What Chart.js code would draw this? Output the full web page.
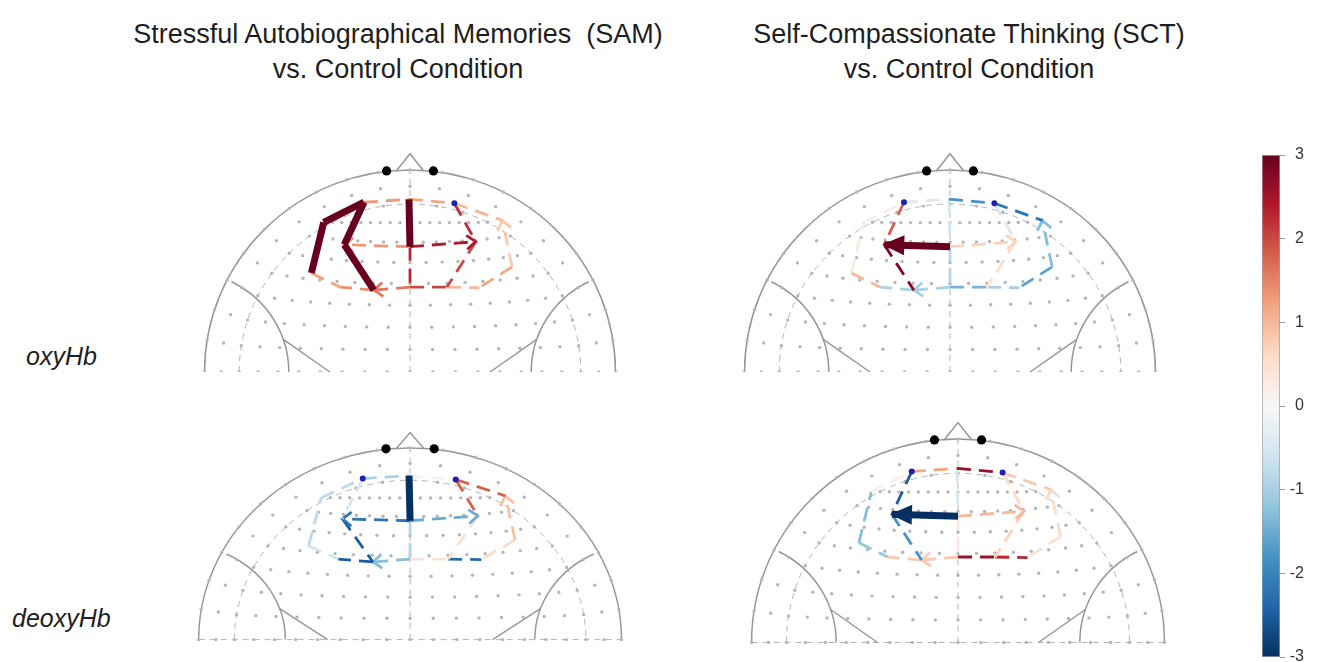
<!DOCTYPE html>
<html>
<head>
<meta charset="utf-8">
<title>Prefrontal channel contrasts</title>
<script src="https://cdn.jsdelivr.net/npm/chart.js@4.4.1/dist/chart.umd.min.js"></script>
<style>
  html, body { margin: 0; padding: 0; background: #fff; }
  body { width: 1321px; height: 662px; position: relative; overflow: hidden;
         font-family: "Liberation Sans", Arial, Helvetica, sans-serif; color: #1e1e1e; }
  .title { position: absolute; width: 640px; text-align: center; font-size: 27px;
           line-height: 35px; white-space: nowrap; }
  .rowlab { position: absolute; font-size: 25px; font-style: italic; line-height: 30px; white-space: nowrap; }
  canvas { position: absolute; display: block; }
</style>
</head>
<body>
<div class="title" style="left:78px;top:17px">Stressful Autobiographical Memories&nbsp; (SAM)<br>vs. Control Condition</div>
<div class="title" style="left:649px;top:17px">Self-Compassionate Thinking (SCT)<br>vs. Control Condition</div>
<div class="rowlab" style="left:26px;top:341px">oxyHb</div>
<div class="rowlab" style="left:12px;top:603px">deoxyHb</div>

<canvas id="cSamOxy"></canvas>
<canvas id="cSctOxy"></canvas>
<canvas id="cSamDeoxy"></canvas>
<canvas id="cSctDeoxy"></canvas>
<canvas id="cBar"></canvas>

<script>
// ---- Optode positions on the 2-D head map (x: left/right, y: toward the nose; head radius = 1)
const optodeX = [-0.224, -0.005, 0.216, -0.42, 0.45, -0.32, 0.0, 0.32, -0.48, 0.497, -0.34, -0.176, 0.0, 0.18, 0.337];
const optodeY = [ 0.84,   0.855, 0.835,  0.74, 0.75,  0.63, 0.62, 0.645, 0.49, 0.52,  0.42,  0.405, 0.42, 0.42, 0.417];

// ---- Channels: arrow from one optode to another
const chFrom = [0, 1, 2, 3, 8, 9, 0, 2, 1, 6, 6, 6, 5, 7, 8, 11, 12, 12, 13, 9];
const chTo   = [1, 2, 4, 0, 3, 4, 5, 7, 6, 5, 7, 12, 11, 13, 10, 10, 11, 13, 14, 14];
const headed = [5, 9, 10, 16];   // channels drawn with an arrowhead

// ---- t-values per channel, and which channels are significant
const samOxy      = [1.3, 1.2, 1.0, 3.0, 3.0, 0.8, 3.0, 2.2, 3.0, 1.3, 2.4, 2.3, 3.0, 2.0, 1.2, 1.4, 1.6, 2.0, 1.0, 1.2];
const samOxySig   = [0, 0, 0, 1, 1, 0, 1, 0, 1, 0, 0, 0, 1, 0, 0, 0, 0, 0, 0, 0];
const sctOxy      = [-0.4, -1.8, -2.2, 0.2, 0.3, -1.3, 1.8, -0.5, -0.6, 3.0, 0.7, -0.9, 2.8, 0.5, 1.0, -1.0, -1.0, -1.4, -1.0, -1.6];
const sctOxySig   = [0, 0, 0, 0, 0, 0, 0, 0, 0, 1, 0, 0, 0, 0, 0, 0, 0, 0, 0, 0];
const samDeoxy    = [-1.0, 0.1, 1.8, -0.8, -0.8, 0.9, -0.5, 1.8, -3.0, -2.2, -1.5, -0.9, -2.5, 0.5, -0.6, -2.5, -1.3, 0.4, -2.3, 0.6];
const samDeoxySig = [0, 0, 0, 0, 0, 0, 0, 0, 1, 0, 0, 0, 0, 0, 0, 0, 0, 0, 0, 0];
const sctDeoxy    = [1.2, 2.6, 0.8, 0.2, -1.3, 0.6, -2.5, 0.6, -0.5, -3.0, 1.0, 0.3, -1.8, 0.7, -1.2, 0.8, 0.8, 2.6, 2.3, 0.5];
const sctDeoxySig = [0, 0, 0, 0, 0, 0, 0, 0, 0, 1, 0, 0, 0, 0, 0, 0, 0, 0, 0, 0];

// optodes marked with a dot
const samOxyMarks = [2];
const sctOxyMarks = [0, 2];
const samDeoxyMarks = [0, 2];
const sctDeoxyMarks = [0, 2];

// colour bar
const barTicks = [-3, -2, -1, 0, 1, 2, 3];

// ---- RdBu colour map, -3 .. 3
const RDBU = ['#053061', '#2166ac', '#4393c3', '#92c5de', '#d1e5f0', '#f7f7f7',
              '#fddbc7', '#f4a582', '#d6604d', '#b2182b', '#67001f'];
function hex(c) { return [1, 3, 5].map(i => parseInt(c.slice(i, i + 2), 16)); }
function cmap(v) {
  const t = Math.max(0, Math.min(1, (v + 3) / 6)) * 10;
  const i = Math.min(9, Math.floor(t)), f = t - i;
  const a = hex(RDBU[i]), b = hex(RDBU[i + 1]);
  const m = a.map((x, k) => Math.round(x + (b[k] - x) * f));
  return `rgb(${m[0]},${m[1]},${m[2]})`;
}

// ---- 10-5 electrode layout (frontal half) on a unit sphere,
//      shown with an equal-area azimuthal projection: the equator lands on the head outline
const RING_DEG = 72;                               // Fp–T ring (dashed circle)
const gridRows = [0, 9, 18, 27, 36, 45, 54, 63];   // midline polar angle of each coronal row
const ring72Phis = [-18, -9, 0, 9, 18];
const lowRingPhis = [-90, -81, -72, -63, -54, -45, -36, -27, -18, -9, 0, 9, 18, 27, 36, 45, 54, 63, 72, 81, 90];
const lowRings = [81, 90];
function sph(theta, phi) {
  const t = theta * Math.PI / 180, p = phi * Math.PI / 180;
  return [Math.sin(t) * Math.sin(p), Math.sin(t) * Math.cos(p), Math.cos(t)];
}
function project(v) {
  const th = Math.acos(Math.max(-1, Math.min(1, v[2])));
  const ph = Math.atan2(v[0], v[1]);
  const r = Math.sin(th / 2) / Math.SQRT1_2;
  return { x: r * Math.sin(ph), y: r * Math.cos(ph) };
}
const RING_R = Math.sin(RING_DEG * Math.PI / 360) / Math.SQRT1_2;
function montage() {
  const pts = [];
  const add = v => { const p = project(v); if (p.y >= -0.01) pts.push(p); };
  gridRows.forEach(t => {
    const M = sph(t, 0), S = sph(RING_DEG, 90 - t);
    const dy = M[1] - S[1], dz = M[2] - S[2], nl = Math.hypot(dy, dz);
    const n = [0, -dz / nl, dy / nl];
    const d = n[1] * M[1] + n[2] * M[2];
    const c = [0, d * n[1], d * n[2]];
    const rho = Math.sqrt(1 - d * d);
    const u = [0, (M[1] - c[1]) / rho, (M[2] - c[2]) / rho];
    const aS = Math.atan2(S[0], (S[1] - c[1]) * u[1] + (S[2] - c[2]) * u[2]);
    for (let j = -8; j <= 8; j++) {
      const a = j * aS / 8;
      add([rho * Math.sin(a), c[1] + rho * Math.cos(a) * u[1], c[2] + rho * Math.cos(a) * u[2]]);
    }
  });
  ring72Phis.forEach(p => add(sph(RING_DEG, p)));
  lowRings.forEach(th => lowRingPhis.forEach(p => add(sph(th, p))));
  return pts;
}
const gridPts = montage();

// ---- head outline drawn through the chart scales
const EAR_C = 1.087, EAR_R = 0.497;
const headOutline = {
  id: 'headOutline',
  beforeDatasetsDraw(chart, args, opts) {
    const { ctx, scales: { x, y } } = chart;
    const px = v => x.getPixelForValue(v), py = v => y.getPixelForValue(v);
    const rx = px(1) - px(0), ry = py(0) - py(1);
    const cx = px(0), cy = py(0);
    ctx.save();
    // dashed reference lines
    ctx.strokeStyle = '#b4b4b4'; ctx.lineWidth = 1; ctx.setLineDash([6, 5]);
    ctx.beginPath(); ctx.ellipse(cx, cy, rx * RING_R, ry * RING_R, 0, Math.PI, 2 * Math.PI); ctx.stroke();
    ctx.beginPath(); ctx.moveTo(cx, cy); ctx.lineTo(cx, py(1)); ctx.stroke();
    if (opts.baseline) {
      ctx.beginPath(); ctx.moveTo(px(-1), cy); ctx.lineTo(px(1), cy); ctx.stroke();
    }
    ctx.setLineDash([]);
    // head, ears, nose
    ctx.strokeStyle = '#979797'; ctx.lineWidth = 1.5;
    ctx.beginPath(); ctx.ellipse(cx, cy, rx, ry, 0, Math.PI, 2 * Math.PI); ctx.stroke();
    const a1 = 64 * Math.PI / 180;
    ctx.beginPath(); ctx.ellipse(px(-EAR_C), cy, rx * EAR_R, ry * EAR_R, 0, -a1, 0); ctx.stroke();
    ctx.beginPath(); ctx.ellipse(px(EAR_C), cy, rx * EAR_R, ry * EAR_R, 0, Math.PI, Math.PI + a1); ctx.stroke();
    ctx.beginPath(); ctx.moveTo(px(-0.617), py(0.162)); ctx.lineTo(px(-0.39), cy); ctx.stroke();
    ctx.beginPath(); ctx.moveTo(px(0.617), py(0.162)); ctx.lineTo(px(0.39), cy); ctx.stroke();
    ctx.beginPath(); ctx.moveTo(px(-0.065), py(0.997)); ctx.lineTo(px(0), py(1.08)); ctx.lineTo(px(0.065), py(0.997)); ctx.stroke();
    ctx.fillStyle = '#000';
    [-0.114, 0.114].forEach(e => { ctx.beginPath(); ctx.arc(px(e), py(0.995), 4.6, 0, 2 * Math.PI); ctx.fill(); });
    ctx.restore();
  }
};

// ---- arrowheads at the end of a channel
const arrowHeads = {
  id: 'arrowHeads',
  afterDatasetDraw(chart, args) {
    const ds = chart.data.datasets[args.index];
    if (!ds.arrow) return;
    const [a, b] = args.meta.data;
    const ang = Math.atan2(b.y - a.y, b.x - a.x);
    const { ctx } = chart;
    ctx.save();
    ctx.translate(b.x, b.y); ctx.rotate(ang);
    if (ds.arrow === 'solid') {
      ctx.fillStyle = ds.borderColor;
      ctx.beginPath(); ctx.moveTo(2, 0); ctx.lineTo(-20, -10); ctx.lineTo(-20, 10); ctx.closePath(); ctx.fill();
    } else {
      ctx.strokeStyle = ds.borderColor; ctx.lineWidth = ds.borderWidth; ctx.lineCap = 'butt';
      ctx.beginPath(); ctx.moveTo(-9, -7); ctx.lineTo(0, 0); ctx.lineTo(-9, 7); ctx.stroke();
    }
    ctx.restore();
  }
};

function headChart(id, vals, sig, marks, g) {
  const el = document.getElementById(id);
  const [L, T, W, H] = g.box;
  el.width = W; el.height = H;
  el.style.left = L + 'px'; el.style.top = T + 'px';
  const datasets = [{
    data: gridPts, pointRadius: 1.7, pointBackgroundColor: '#b6b6b6', pointBorderWidth: 0, order: 100
  }];
  chFrom.forEach((f, i) => {
    const s = sig[i] === 1;
    const isHead = headed.includes(i);
    datasets.push({
      data: [{ x: optodeX[f], y: optodeY[f] }, { x: optodeX[chTo[i]], y: optodeY[chTo[i]] }],
      showLine: true, pointRadius: 0, borderColor: cmap(vals[i]),
      borderWidth: s ? 7 : 2.8, borderDash: s ? [] : [14, 8], borderCapStyle: 'butt',
      order: s ? 10 : 50,
      arrow: isHead ? (s ? 'solid' : 'open') : null
    });
  });
  datasets.push({
    data: marks.map(k => ({ x: optodeX[k], y: optodeY[k] })),
    pointRadius: 3, pointBackgroundColor: '#1f1fb0', pointBorderWidth: 0, order: 1
  });
  const Rx = g.Rx || g.R, Ry = g.Ry || g.R;
  new Chart(el, {
    type: 'scatter',
    data: { datasets },
    options: {
      responsive: false, animation: false, events: [],
      layout: { padding: 0 },
      plugins: { legend: { display: false }, tooltip: { enabled: false },
                 headOutline: { baseline: g.baseline } },
      scales: {
        x: { type: 'linear', display: false, min: (L - g.cx) / Rx, max: (L + W - g.cx) / Rx },
        y: { type: 'linear', display: false, min: (g.cy - T - H) / Ry, max: (g.cy - T) / Ry }
      }
    },
    plugins: [headOutline, arrowHeads]
  });
}

headChart('cSamOxy',   samOxy,   samOxySig,   samOxyMarks,   { cx: 410, cy: 376, R: 209, baseline: false, box: [175, 134, 470, 242] });
headChart('cSctOxy',   sctOxy,   sctOxySig,   sctOxyMarks,   { cx: 950, cy: 376, R: 209, baseline: false, box: [715, 134, 470, 242] });
headChart('cSamDeoxy', samDeoxy, samDeoxySig, samDeoxyMarks, { cx: 410, cy: 643, Rx: 215, Ry: 198, baseline: true, box: [175, 410, 480, 252] });
headChart('cSctDeoxy', sctDeoxy, sctDeoxySig, sctDeoxyMarks, { cx: 958, cy: 646, R: 210, baseline: true, box: [723, 400, 470, 262] });

// ---- colour bar
(function () {
  const el = document.getElementById('cBar');
  el.width = 42; el.height = 530;
  el.style.left = '1262px'; el.style.top = '140px';
  new Chart(el, {
    type: 'bar',
    data: {
      labels: [''],
      datasets: [{
        data: [[barTicks[0], barTicks[barTicks.length - 1]]],
        backgroundColor: (c) => {
          const { chart } = c;
          if (!chart.chartArea) return '#ccc';
          const ys = chart.scales.y;
          const gr = chart.ctx.createLinearGradient(0, ys.getPixelForValue(-3), 0, ys.getPixelForValue(3));
          RDBU.forEach((col, i) => gr.addColorStop(i / 10, col));
          return gr;
        },
        borderColor: '#a0a0a0', borderWidth: 1, borderSkipped: false,
        barPercentage: 1, categoryPercentage: 1
      }]
    },
    options: {
      responsive: false, animation: false, events: [],
      layout: { padding: { top: 15, bottom: 13, left: 0, right: 0 } },
      plugins: { legend: { display: false }, tooltip: { enabled: false } },
      scales: {
        x: { display: false },
        y: {
          position: 'right', min: -3, max: 3,
          afterBuildTicks: s => { s.ticks = barTicks.map(v => ({ value: v })); },
          afterFit: s => { s.width = 24; },
          ticks: { color: '#333', font: { size: 16, family: '"Liberation Sans", Arial, sans-serif' },
                   padding: 3, crossAlign: 'far' },
          grid: { drawOnChartArea: false, tickLength: 5, color: '#9a9a9a' },
          border: { display: false }
        }
      }
    }
  });
})();
</script>
</body>
</html>
